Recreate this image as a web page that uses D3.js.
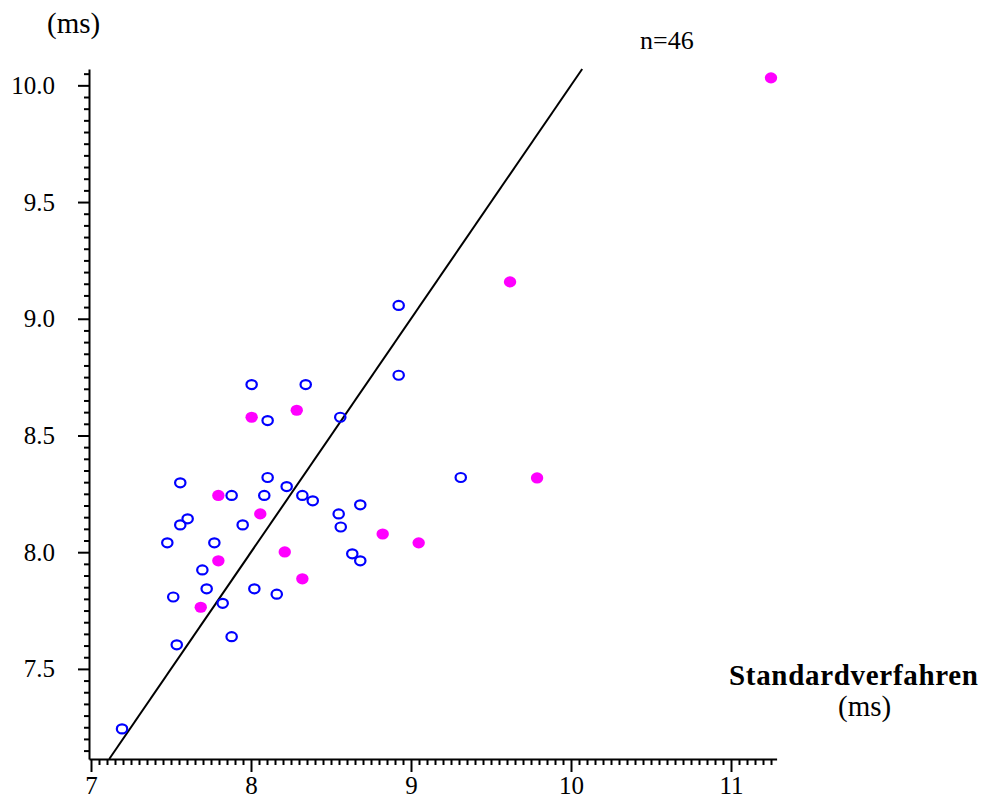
<!DOCTYPE html>
<html>
<head>
<meta charset="utf-8">
<script src="https://cdn.jsdelivr.net/npm/d3@7"></script>
<style>
  html, body { margin: 0; padding: 0; background: #fff; }
  svg { display: block; font-family: "Liberation Serif", "Times New Roman", serif; }
  svg text { font-family: "Liberation Serif", "Times New Roman", serif; }
</style>
</head>
<body>
<svg id="chart" width="985" height="799"></svg>
<script>
// Standard method (x) against second method (y), both in ms
const openX = [7.194, 7.536, 7.514, 7.879, 7.823, 7.723, 7.696, 7.477, 7.771, 7.558,
               7.604, 7.558, 7.879, 7.948, 8.083, 8.104, 8.223, 8.321, 8.386, 8.004,
               8.342, 8.104, 8.558, 8.021, 8.161, 8.548, 8.561, 8.683, 8.633, 8.683,
               8.923, 8.923, 9.311];
const openY = [7.243, 7.603, 7.808, 7.638, 7.781, 7.843, 7.924, 8.040, 8.040, 8.117,
               8.143, 8.297, 8.243, 8.117, 8.243, 8.320, 8.281, 8.243, 8.220, 8.718,
               8.718, 8.564, 8.578, 7.843, 7.820, 8.164, 8.108, 8.203, 7.993, 7.963,
               9.057, 8.758, 8.320];

const filledX = [11.250, 9.619, 9.788, 9.048, 8.823, 8.321, 8.211, 8.286, 8.004, 7.796,
                 8.058, 7.796, 7.686];
const filledY = [10.032, 9.158, 8.318, 8.040, 8.078, 7.886, 8.001, 8.608, 8.578, 8.243,
                 8.164, 7.963, 7.764];

const xMajorTicks = [7, 8, 9, 10, 11];
const yMajorTicks = [7.5, 8.0, 8.5, 9.0, 9.5, 10.0];
const xDomain = [6.9875, 11.285];
const yDomain = [7.114, 10.07];
const nLabel = "n=46";

const svg = d3.select("#chart");
const x = d3.scaleLinear().domain(xDomain).range([89, 776.6]);
const y = d3.scaleLinear().domain(yDomain).range([759, 69]);

// minor ticks every 0.05
const xMinor = d3.range(140, 226).map(i => i * 0.05).filter(v => v >= 7 && v <= 11.26 && Math.abs(v - Math.round(v)) > 1e-6);
const yMinor = d3.range(143, 202).map(i => i * 0.05).filter(v => v >= yDomain[0] && v <= yDomain[1] && Math.abs(v * 2 - Math.round(v * 2)) > 1e-6);

function styleAxis(g) {
  g.attr("font-family", null).attr("font-size", null);
  g.selectAll("path, line").attr("stroke", "#000").attr("stroke-width", 2);
  g.selectAll("text").attr("fill", "#000")
    .style("font-family", "'Liberation Serif', 'Times New Roman', serif")
    .style("font-size", "25px");
}

// x axis
svg.append("g").attr("transform", "translate(0,759)")
  .call(d3.axisBottom(x).tickValues(xMinor).tickSize(6).tickSizeOuter(0).tickFormat(""))
  .call(styleAxis);
svg.append("g").attr("transform", "translate(0,759)")
  .call(d3.axisBottom(x).tickValues(xMajorTicks).tickSize(13).tickSizeOuter(0).tickPadding(4).tickFormat(d3.format("d")))
  .call(g => g.select(".domain").remove())
  .call(styleAxis);

// y axis
svg.append("g").attr("transform", "translate(89,0)")
  .call(d3.axisLeft(y).tickValues(yMinor).tickSize(5).tickSizeOuter(0).tickFormat(""))
  .call(styleAxis);
svg.append("g").attr("transform", "translate(89,0)")
  .call(d3.axisLeft(y).tickValues(yMajorTicks).tickSize(11).tickSizeOuter(0).tickPadding(23).tickFormat(d3.format(".1f")))
  .call(g => g.select(".domain").remove())
  .call(styleAxis);

// line of equality y = x, clipped to the plotted range
const lo = Math.max(xDomain[0], yDomain[0]);
const hi = Math.min(xDomain[1], yDomain[1]);
svg.append("line")
  .attr("x1", x(lo)).attr("y1", y(lo))
  .attr("x2", x(hi)).attr("y2", y(hi))
  .attr("stroke", "#000").attr("stroke-width", 2);

// open points
svg.append("g").selectAll("ellipse")
  .data(d3.zip(openX, openY))
  .join("ellipse")
  .attr("cx", d => x(d[0])).attr("cy", d => y(d[1]))
  .attr("rx", 5.2).attr("ry", 4.5)
  .attr("fill", "none").attr("stroke", "#0000ff").attr("stroke-width", 2.2);

// filled points
svg.append("g").selectAll("ellipse")
  .data(d3.zip(filledX, filledY))
  .join("ellipse")
  .attr("cx", d => x(d[0])).attr("cy", d => y(d[1]))
  .attr("rx", 6.2).attr("ry", 5.6)
  .attr("fill", "#ff00ff");

// labels
svg.append("text").attr("x", 47).attr("y", 33).attr("font-size", 29).text("(ms)");
svg.append("text").attr("x", 640).attr("y", 49).attr("font-size", 26).text(nLabel);
svg.append("text").attr("x", 729).attr("y", 685).attr("font-size", 29).attr("font-weight", "bold")
  .attr("textLength", 249).attr("lengthAdjust", "spacing").text("Standardverfahren");
svg.append("text").attr("x", 838).attr("y", 716).attr("font-size", 29).text("(ms)");
</script>
</body>
</html>
